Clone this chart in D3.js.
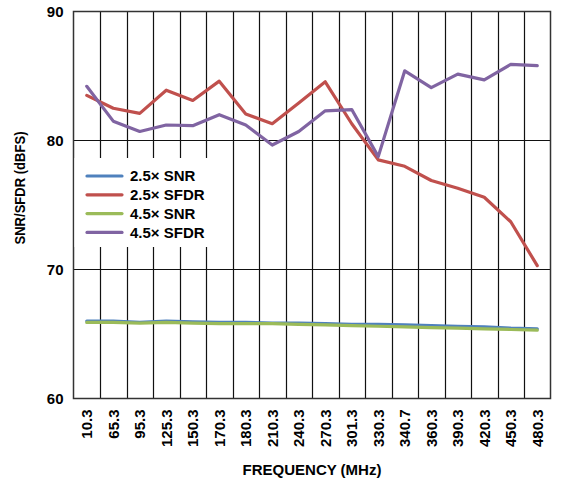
<!DOCTYPE html>
<html><head><meta charset="utf-8">
<script src="https://cdn.jsdelivr.net/npm/d3@7"></script>
<style>body{margin:0;background:#fff}svg{display:block}text{font-family:"Liberation Sans",Arial,sans-serif;font-weight:bold;fill:#000}</style>
</head><body><svg id="c" width="561" height="482"></svg>
<script>
const categories = ["10.3","65.3","95.3","125.3","150.3","170.3","180.3","210.3","240.3","270.3","301.3","330.3","340.7","360.3","390.3","420.3","450.3","480.3"];
const snr25 = [66.0,66.0,65.9,66.0,65.95,65.9,65.9,65.85,65.85,65.8,65.75,65.75,65.7,65.65,65.6,65.55,65.45,65.4];
const sfdr25 = [83.5,82.5,82.1,83.9,83.1,84.6,82.05,81.3,82.9,84.55,81.3,78.5,78.0,76.9,76.3,75.6,73.7,70.3];
const snr45 = [65.9,65.9,65.85,65.9,65.85,65.8,65.8,65.8,65.75,65.7,65.65,65.6,65.55,65.5,65.45,65.4,65.35,65.3];
const sfdr45 = [84.2,81.5,80.7,81.2,81.15,82.0,81.2,79.65,80.7,82.3,82.4,78.75,85.4,84.1,85.15,84.7,85.9,85.8];
const yTicks = [60,70,80,90];
const seriesNames = ["2.5× SNR","2.5× SFDR","4.5× SNR","4.5× SFDR"];
const seriesColors = ["#4F81BD","#C0504D","#9BBB59","#8064A2"];

const svg = d3.select("#c");
const L=73.5, R=550.5, T=11.5, B=398.5;
const x = d3.scaleBand().domain(categories).range([L,R]);
const y = d3.scaleLinear().domain([60,90]).range([B,T]);

// vertical gridlines at category boundaries
const bounds = categories.slice(1).map(c=>x(c));
svg.append("g").selectAll("line").data(bounds).join("line")
  .attr("x1",d=>Math.round(d)+0.5).attr("x2",d=>Math.round(d)+0.5).attr("y1",T).attr("y2",B)
  .attr("stroke","#111").attr("stroke-width",1.2);
// horizontal gridlines
svg.append("g").selectAll("line").data([70,80]).join("line")
  .attr("x1",L).attr("x2",R).attr("y1",d=>y(d)).attr("y2",d=>y(d))
  .attr("stroke","#111").attr("stroke-width",1.2);
// frame
svg.append("rect").attr("x",L).attr("y",T).attr("width",R-L).attr("height",B-T)
  .attr("fill","none").attr("stroke","#333").attr("stroke-width",1.5);

// legend background
svg.append("rect").attr("x",L+1).attr("y",158).attr("width",152).attr("height",89).attr("fill","#fff");

// y axis
const yAxis = d3.axisLeft(y).tickValues(yTicks).tickSize(0).tickPadding(10);
const ga = svg.append("g").attr("transform",`translate(${L},0)`).call(yAxis);
ga.select(".domain").remove();
ga.selectAll("text").style("font-size","15px").attr("font-family",null).attr("dy","0.36em");

// x axis labels
const xAxis = d3.axisBottom(x).tickSize(0).tickPadding(0);
const gx = svg.append("g").attr("transform",`translate(0,${B})`).call(xAxis);
gx.select(".domain").remove();
gx.selectAll("text").style("font-size","15px").attr("font-family",null)
  .attr("text-anchor","end").attr("transform","translate(0,11) rotate(-90)")
  .attr("x",0).attr("y",0).attr("dy","0.36em");

// lines
const line = d3.line().x((d,i)=>x(categories[i])+x.bandwidth()/2).y(d=>y(d));
const data = [snr25, sfdr25, snr45, sfdr45];
const order = [1,3,0,2];
order.forEach(k=>{
  svg.append("path").datum(data[k]).attr("d",line).attr("fill","none")
    .attr("stroke",seriesColors[k]).attr("stroke-width",3.2)
    .attr("stroke-linejoin","round").attr("stroke-linecap","round");
});

// legend
const lg = svg.append("g");
seriesNames.forEach((n,i)=>{
  const yy = 176 + i*18.8;
  lg.append("line").attr("x1",87).attr("x2",122).attr("y1",yy).attr("y2",yy)
    .attr("stroke",seriesColors[i]).attr("stroke-width",3.2).attr("stroke-linecap","round");
  lg.append("text").attr("x",130).attr("y",yy).attr("dy","0.36em").style("font-size","15px").text(n);
});

// axis titles
svg.append("text").attr("x",(L+R)/2).attr("y",475).attr("text-anchor","middle").style("font-size","15px").text("FREQUENCY (MHz)");
svg.append("text").attr("transform","translate(24.5,188) rotate(-90)").attr("text-anchor","middle")
  .style("font-size","14px").attr("textLength",113).attr("lengthAdjust","spacingAndGlyphs").text("SNR/SFDR (dBFS)");
</script></body></html>
